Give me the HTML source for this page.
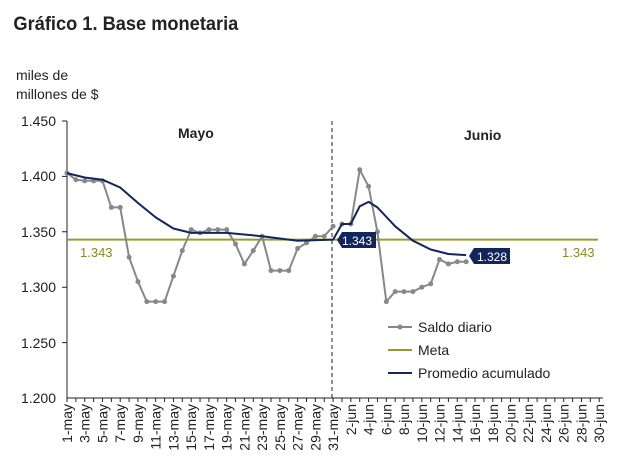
<!DOCTYPE html><html><head><meta charset="utf-8"><style>body{margin:0;background:#fff}svg{font-family:"Liberation Sans",sans-serif}</style></head><body>
<svg width="628" height="470" xmlns="http://www.w3.org/2000/svg">
<text x="14" y="30" font-size="19" font-weight="bold" fill="#222" transform="scale(0.96,1)">Gráfico 1. Base monetaria</text>
<text x="16" y="80" font-size="14" fill="#222">miles de</text>
<text x="16" y="99" font-size="14" fill="#222">millones de $</text>
<g font-size="14" fill="#222" text-anchor="end">
<text x="56" y="126">1.450</text><text x="56" y="181">1.400</text><text x="56" y="237">1.350</text><text x="56" y="292">1.300</text><text x="56" y="348">1.250</text><text x="56" y="403">1.200</text></g>
<g stroke="#222" stroke-width="1" fill="none">
<line x1="67" y1="121" x2="67" y2="398"/><line x1="67" y1="398" x2="603" y2="398"/>
<path d="M62 121H67M62 176.4H67M62 231.8H67M62 287.2H67M62 342.6H67"/>
</g>
<g id="ticks" stroke="#222"></g>
<line x1="332" y1="121" x2="332" y2="398" stroke="#222" stroke-dasharray="4,3"/>
<text x="178" y="138" font-size="14" font-weight="bold" fill="#222">Mayo</text>
<text x="464" y="140" font-size="14" font-weight="bold" fill="#222">Junio</text>
<line x1="67" y1="239.6" x2="598" y2="239.6" stroke="#9a9a2a" stroke-width="2"/>
<text x="80" y="257" font-size="13" fill="#8a8a20">1.343</text>
<text x="562" y="257" font-size="13" fill="#8a8a20">1.343</text>
<g id="sd" fill="none" stroke="#888" stroke-width="2"></g>
<path id="pa" fill="none" stroke="#13265c" stroke-width="2" stroke-linejoin="round"/>
<path d="M337 240l5-8h34v16h-34z" fill="#13265c"/><text x="342" y="245" font-size="12" fill="#fff">1.343</text>
<path d="M469 256l5-8h36v16h-36z" fill="#13265c"/><text x="477" y="261" font-size="12" fill="#fff">1.328</text>
<line x1="388" y1="327" x2="412" y2="327" stroke="#888" stroke-width="2"/><circle cx="400" cy="327" r="2.5" fill="#888"/>
<text x="418" y="332" font-size="14" fill="#222">Saldo diario</text>
<line x1="388" y1="350" x2="412" y2="350" stroke="#9a9a2a" stroke-width="2"/><text x="418" y="355" font-size="14" fill="#222">Meta</text>
<line x1="388" y1="373" x2="412" y2="373" stroke="#13265c" stroke-width="2"/><text x="418" y="378" font-size="14" fill="#222">Promedio acumulado</text>
<g id="xl" font-size="14" fill="#222"></g>
</svg>
<script>
var x0=67,st=8.87;function X(i){return x0+i*st}function Y(v){return 398-(v-1.2)/0.05*55.4}
var ns="http://www.w3.org/2000/svg";
var t=document.getElementById('ticks'),xl=document.getElementById('xl');
for(var i=0;i<=60;i++){var l=document.createElementNS(ns,'line');l.setAttribute('x1',X(i));l.setAttribute('x2',X(i));l.setAttribute('y1',398);l.setAttribute('y2',402);t.appendChild(l);
if(i%2==0){var tx=document.createElementNS(ns,'text');var lab=i<=30?(i+1)+'-may':(i-30)+'-jun';tx.textContent=lab;var x=X(i)+5;tx.setAttribute('transform','translate('+x+',404) rotate(-90)');tx.setAttribute('text-anchor','end');xl.appendChild(tx);}}
var may=[1.403,1.397,1.396,1.396,1.396,1.372,1.372,1.327,1.305,1.287,1.287,1.287,1.310,1.333,1.352,1.349,1.352,1.352,1.352,1.339,1.321,1.333,1.346,1.315,1.315,1.315,1.335,1.340,1.346,1.346,1.355];
var jun=[1.357,1.357,1.406,1.391,1.350,1.287,1.296,1.296,1.296,1.300,1.303,1.325,1.321,1.323,1.323];
var sd=document.getElementById('sd');
function ser(arr,off){var d='';arr.forEach(function(v,i){d+=(i?'L':'M')+X(i+off).toFixed(1)+' '+Y(v).toFixed(1);var c=document.createElementNS(ns,'circle');c.setAttribute('cx',X(i+off));c.setAttribute('cy',Y(v));c.setAttribute('r',2.5);c.setAttribute('fill','#888');c.setAttribute('stroke','none');sd.appendChild(c)});var p=document.createElementNS(ns,'path');p.setAttribute('d',d);sd.insertBefore(p,sd.firstChild)}
ser(may,0);ser(jun,31);
var pa=[[0,1.403],[2,1.399],[4,1.397],[6,1.390],[8,1.376],[10,1.363],[12,1.353],[14,1.349],[18,1.349],[22,1.346],[26,1.342],[30,1.343],[31,1.357],[32,1.357],[33,1.373],[34,1.377],[35,1.372],[37,1.355],[39,1.342],[41,1.334],[43,1.330],[45,1.329]];
var d='';pa.forEach(function(p,i){d+=(i?'L':'M')+X(p[0]).toFixed(1)+' '+Y(p[1]).toFixed(1)});document.getElementById('pa').setAttribute('d',d);
</script>
</body></html>
